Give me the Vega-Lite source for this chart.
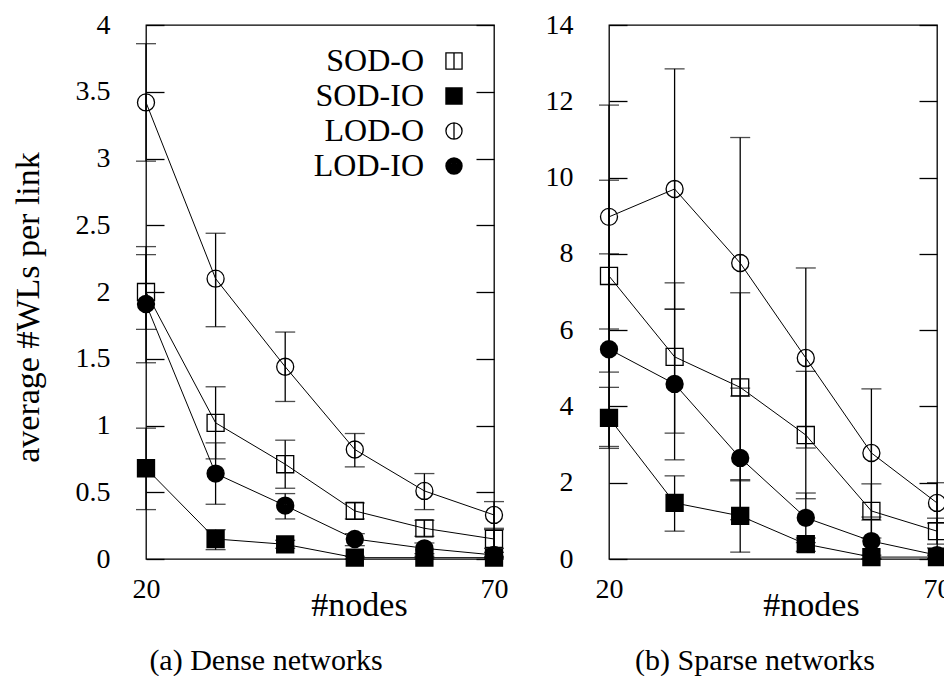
{
  "$schema": "https://vega.github.io/schema/vega-lite/v6.json",
  "padding": {"left": 10, "top": 10, "right": 0, "bottom": 0},
  "background": "white",
  "datasets": {
    "dense": [
      {"s": "SOD-O", "n": 20, "v": 2.00, "lo": 1.72, "hi": 2.28},
      {"s": "SOD-O", "n": 30, "v": 1.02, "lo": 0.75, "hi": 1.29},
      {"s": "SOD-O", "n": 40, "v": 0.71, "lo": 0.53, "hi": 0.89},
      {"s": "SOD-O", "n": 50, "v": 0.36, "lo": 0.30, "hi": 0.42},
      {"s": "SOD-O", "n": 60, "v": 0.23, "lo": 0.17, "hi": 0.29},
      {"s": "SOD-O", "n": 70, "v": 0.15, "lo": 0.08, "hi": 0.23},
      {"s": "SOD-IO", "n": 20, "v": 0.68, "lo": 0.37, "hi": 0.98},
      {"s": "SOD-IO", "n": 30, "v": 0.15, "lo": 0.07, "hi": 0.22},
      {"s": "SOD-IO", "n": 40, "v": 0.11, "lo": 0.08, "hi": 0.14},
      {"s": "SOD-IO", "n": 50, "v": 0.01, "lo": 0.0, "hi": 0.02},
      {"s": "SOD-IO", "n": 60, "v": 0.01, "lo": 0.0, "hi": 0.02},
      {"s": "SOD-IO", "n": 70, "v": 0.01, "lo": 0.0, "hi": 0.02},
      {"s": "LOD-O", "n": 20, "v": 3.42, "lo": 2.98, "hi": 3.86},
      {"s": "LOD-O", "n": 30, "v": 2.10, "lo": 1.74, "hi": 2.44},
      {"s": "LOD-O", "n": 40, "v": 1.44, "lo": 1.18, "hi": 1.70},
      {"s": "LOD-O", "n": 50, "v": 0.82, "lo": 0.69, "hi": 0.94},
      {"s": "LOD-O", "n": 60, "v": 0.51, "lo": 0.37, "hi": 0.64},
      {"s": "LOD-O", "n": 70, "v": 0.33, "lo": 0.22, "hi": 0.43},
      {"s": "LOD-IO", "n": 20, "v": 1.91, "lo": 1.47, "hi": 2.34},
      {"s": "LOD-IO", "n": 30, "v": 0.64, "lo": 0.41, "hi": 0.87},
      {"s": "LOD-IO", "n": 40, "v": 0.40, "lo": 0.30, "hi": 0.49},
      {"s": "LOD-IO", "n": 50, "v": 0.15, "lo": 0.10, "hi": 0.19},
      {"s": "LOD-IO", "n": 60, "v": 0.08, "lo": 0.04, "hi": 0.12},
      {"s": "LOD-IO", "n": 70, "v": 0.03, "lo": 0.01, "hi": 0.05}
    ],
    "sparse": [
      {"s": "SOD-O", "n": 20, "v": 7.42, "lo": 4.9, "hi": 9.93},
      {"s": "SOD-O", "n": 30, "v": 5.30, "lo": 3.3, "hi": 7.24},
      {"s": "SOD-O", "n": 40, "v": 4.50, "lo": 2.05, "hi": 6.98},
      {"s": "SOD-O", "n": 50, "v": 3.25, "lo": 1.58, "hi": 4.92},
      {"s": "SOD-O", "n": 60, "v": 1.26, "lo": 0.55, "hi": 1.97},
      {"s": "SOD-O", "n": 70, "v": 0.73, "lo": 0.39, "hi": 1.07},
      {"s": "SOD-IO", "n": 20, "v": 3.70, "lo": 2.9, "hi": 4.5},
      {"s": "SOD-IO", "n": 30, "v": 1.47, "lo": 0.73, "hi": 2.18},
      {"s": "SOD-IO", "n": 40, "v": 1.13, "lo": 0.18, "hi": 2.08},
      {"s": "SOD-IO", "n": 50, "v": 0.39, "lo": 0.2, "hi": 0.55},
      {"s": "SOD-IO", "n": 60, "v": 0.05, "lo": 0.0, "hi": 0.1},
      {"s": "SOD-IO", "n": 70, "v": 0.05, "lo": 0.0, "hi": 0.1},
      {"s": "LOD-O", "n": 20, "v": 8.97, "lo": 6.03, "hi": 11.9},
      {"s": "LOD-O", "n": 30, "v": 9.70, "lo": 6.55, "hi": 12.85},
      {"s": "LOD-O", "n": 40, "v": 7.76, "lo": 4.48, "hi": 11.05},
      {"s": "LOD-O", "n": 50, "v": 5.27, "lo": 2.91, "hi": 7.63},
      {"s": "LOD-O", "n": 60, "v": 2.78, "lo": 1.1, "hi": 4.46},
      {"s": "LOD-O", "n": 70, "v": 1.47, "lo": 0.94, "hi": 2.0},
      {"s": "LOD-IO", "n": 20, "v": 5.50, "lo": 2.95, "hi": 8.0},
      {"s": "LOD-IO", "n": 30, "v": 4.59, "lo": 2.6, "hi": 6.55},
      {"s": "LOD-IO", "n": 40, "v": 2.65, "lo": 1.03, "hi": 4.27},
      {"s": "LOD-IO", "n": 50, "v": 1.08, "lo": 0.43, "hi": 1.73},
      {"s": "LOD-IO", "n": 60, "v": 0.47, "lo": 0.0, "hi": 1.02},
      {"s": "LOD-IO", "n": 70, "v": 0.10, "lo": 0.0, "hi": 0.29}
    ]
  },
  "hconcat": [
    {
      "width": 348,
      "height": 534,
      "title": {"text": "(a) Dense networks", "orient": "bottom", "dx": -54, "offset": 24},
      "data": {"name": "dense"},
      "encoding": {
        "x": {"field": "n", "type": "quantitative", "scale": {"domain": [20, 70], "nice": false, "zero": false},
          "axis": {"values": [20, 70], "ticks": false, "labelFlush": false, "labelPadding": 16, "title": "#nodes", "titleX": 213, "titleY": 29, "titleAlign": "center", "titleBaseline": "top"}}
      },
      "layer": [
        {
          "mark": {"type": "line", "color": "black", "strokeWidth": 1},
          "encoding": {
            "y": {"field": "v", "type": "quantitative", "scale": {"domain": [0, 4], "nice": false},
              "axis": {"values": [0, 0.5, 1, 1.5, 2, 2.5, 3, 3.5, 4], "format": "~g", "tickSize": -18, "labelPadding": 54, "title": "average #WLs per link", "titlePadding": 30, "titleFontSize": 34, "titleY": 282}},
            "detail": {"field": "s"}
          }
        },
        {
          "mark": {"type": "rule", "color": "black", "strokeWidth": 1.3},
          "encoding": {"y": {"field": "lo", "type": "quantitative", "axis": null}, "y2": {"field": "hi"}}
        },
        {
          "transform": [{"fold": ["lo", "hi"], "as": ["k", "e"]}],
          "mark": {"type": "tick", "orient": "horizontal", "size": 20, "thickness": 1.3, "color": "black"},
          "encoding": {"y": {"field": "e", "type": "quantitative", "axis": null}}
        },
        {
          "mark": {"type": "point", "filled": false, "size": 290, "stroke": "black", "strokeWidth": 1.3, "opacity": 1},
          "encoding": {
            "y": {"field": "v", "type": "quantitative",
              "axis": {"orient": "right", "values": [0, 0.5, 1, 1.5, 2, 2.5, 3, 3.5, 4], "labels": false, "tickSize": -18, "title": null}},
            "shape": {"field": "s", "type": "nominal",
              "scale": {"domain": ["SOD-O", "SOD-IO", "LOD-O", "LOD-IO"],
                "range": [
                  "M-1,-1H1V1H-1ZM0,-1V1",
                  "M-1,-1H1V1H-1ZM-1,-0.875H1M-1,-0.75H1M-1,-0.625H1M-1,-0.5H1M-1,-0.375H1M-1,-0.25H1M-1,-0.125H1M-1,0H1M-1,0.125H1M-1,0.25H1M-1,0.375H1M-1,0.5H1M-1,0.625H1M-1,0.75H1M-1,0.875H1",
                  "M-1,0A1,1,0,1,0,1,0A1,1,0,1,0,-1,0ZM0,-1V1",
                  "M-1,0A1,1,0,1,0,1,0A1,1,0,1,0,-1,0ZM-0.875,0A0.875,0.875,0,1,0,0.875,0A0.875,0.875,0,1,0,-0.875,0ZM-0.75,0A0.75,0.75,0,1,0,0.75,0A0.75,0.75,0,1,0,-0.75,0ZM-0.625,0A0.625,0.625,0,1,0,0.625,0A0.625,0.625,0,1,0,-0.625,0ZM-0.5,0A0.5,0.5,0,1,0,0.5,0A0.5,0.5,0,1,0,-0.5,0ZM-0.375,0A0.375,0.375,0,1,0,0.375,0A0.375,0.375,0,1,0,-0.375,0ZM-0.25,0A0.25,0.25,0,1,0,0.25,0A0.25,0.25,0,1,0,-0.25,0ZM-0.125,0A0.125,0.125,0,1,0,0.125,0A0.125,0.125,0,1,0,-0.125,0ZM-0.1,0H0.1"
                ]},
              "legend": {"orient": "none", "legendX": 292, "legendY": 20, "title": null, "labelAlign": "right", "labelOffset": -46, "labelFontSize": 32, "labelFont": "Liberation Serif", "labelColor": "black", "symbolSize": 260, "symbolStrokeWidth": 1.3, "rowPadding": 3, "labelLimit": 300}}
          }
        }
      ],
      "resolve": {"axis": {"y": "independent"}}
    },
    {
      "width": 328,
      "height": 534,
      "title": {"text": "(b) Sparse networks", "orient": "bottom", "dx": -18, "offset": 24},
      "data": {"name": "sparse"},
      "encoding": {
        "x": {"field": "n", "type": "quantitative", "scale": {"domain": [20, 70], "nice": false, "zero": false},
          "axis": {"values": [20, 70], "ticks": false, "labelFlush": false, "labelPadding": 16, "title": "#nodes", "titleX": 202, "titleY": 29, "titleAlign": "center", "titleBaseline": "top"}}
      },
      "layer": [
        {
          "mark": {"type": "line", "color": "black", "strokeWidth": 1},
          "encoding": {
            "y": {"field": "v", "type": "quantitative", "scale": {"domain": [0, 14], "nice": false},
              "axis": {"values": [0, 2, 4, 6, 8, 10, 12, 14], "format": "d", "tickSize": -18, "labelPadding": 54, "title": null}},
            "detail": {"field": "s"}
          }
        },
        {
          "mark": {"type": "rule", "color": "black", "strokeWidth": 1.3},
          "encoding": {"y": {"field": "lo", "type": "quantitative", "axis": null}, "y2": {"field": "hi"}}
        },
        {
          "transform": [{"fold": ["lo", "hi"], "as": ["k", "e"]}],
          "mark": {"type": "tick", "orient": "horizontal", "size": 20, "thickness": 1.3, "color": "black"},
          "encoding": {"y": {"field": "e", "type": "quantitative", "axis": null}}
        },
        {
          "mark": {"type": "point", "filled": false, "size": 290, "stroke": "black", "strokeWidth": 1.3, "opacity": 1},
          "encoding": {
            "y": {"field": "v", "type": "quantitative",
              "axis": {"orient": "right", "values": [0, 2, 4, 6, 8, 10, 12, 14], "labels": false, "tickSize": -18, "title": null}},
            "shape": {"field": "s", "type": "nominal",
              "scale": {"domain": ["SOD-O", "SOD-IO", "LOD-O", "LOD-IO"],
                "range": [
                  "M-1,-1H1V1H-1ZM0,-1V1",
                  "M-1,-1H1V1H-1ZM-1,-0.875H1M-1,-0.75H1M-1,-0.625H1M-1,-0.5H1M-1,-0.375H1M-1,-0.25H1M-1,-0.125H1M-1,0H1M-1,0.125H1M-1,0.25H1M-1,0.375H1M-1,0.5H1M-1,0.625H1M-1,0.75H1M-1,0.875H1",
                  "M-1,0A1,1,0,1,0,1,0A1,1,0,1,0,-1,0ZM0,-1V1",
                  "M-1,0A1,1,0,1,0,1,0A1,1,0,1,0,-1,0ZM-0.875,0A0.875,0.875,0,1,0,0.875,0A0.875,0.875,0,1,0,-0.875,0ZM-0.75,0A0.75,0.75,0,1,0,0.75,0A0.75,0.75,0,1,0,-0.75,0ZM-0.625,0A0.625,0.625,0,1,0,0.625,0A0.625,0.625,0,1,0,-0.625,0ZM-0.5,0A0.5,0.5,0,1,0,0.5,0A0.5,0.5,0,1,0,-0.5,0ZM-0.375,0A0.375,0.375,0,1,0,0.375,0A0.375,0.375,0,1,0,-0.375,0ZM-0.25,0A0.25,0.25,0,1,0,0.25,0A0.25,0.25,0,1,0,-0.25,0ZM-0.125,0A0.125,0.125,0,1,0,0.125,0A0.125,0.125,0,1,0,-0.125,0ZM-0.1,0H0.1"
                ]},
              "legend": null}
          }
        }
      ],
      "resolve": {"axis": {"y": "independent"}}
    }
  ],
  "spacing": 35,
  "resolve": {"scale": {"shape": "independent"}},
  "config": {
    "font": "Liberation Serif",
    "view": {"stroke": "black", "strokeWidth": 1.3},
    "axis": {
      "labelFont": "Liberation Serif", "labelFontSize": 28, "labelColor": "black",
      "titleFont": "Liberation Serif", "titleFontSize": 34, "titleFontWeight": "normal", "titleColor": "black",
      "grid": false, "domain": false, "tickColor": "black", "tickWidth": 1.3
    },
    "title": {"font": "Liberation Serif", "fontSize": 30, "fontWeight": "normal", "color": "black"}
  }
}
